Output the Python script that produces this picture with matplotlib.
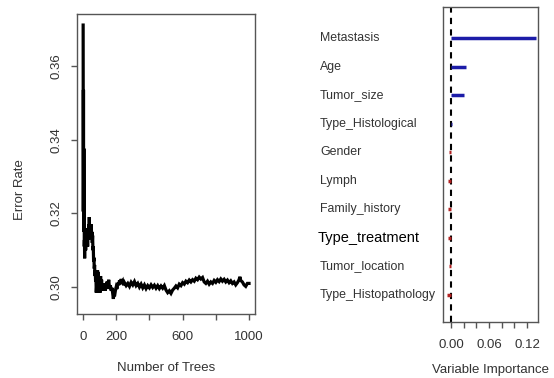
import matplotlib
matplotlib.use("Agg")
import matplotlib.pyplot as plt

plt.rcParams['font.family'] = ['Liberation Sans', 'DejaVu Sans']

# ---- Left panel data: OOB error rate vs number of trees ----
trees = [1, 2, 3, 4, 5, 6, 7, 8, 9, 10, 11, 12, 13, 14, 15, 16, 18, 20, 22, 24,
         26, 28, 30, 32, 34, 36, 38, 40, 42, 44, 46, 48, 50, 52, 54, 56, 58, 60,
         62, 64, 66, 68, 70, 72, 74, 76, 78, 80, 82, 84, 86, 88, 90, 92, 94, 96,
         98, 100, 103, 106, 109, 112, 115, 118, 121, 124, 127, 130, 133, 136,
         140, 145, 150, 155, 160, 165, 170, 175, 180, 183, 186, 190, 195, 200,
         205, 210, 215, 220, 225, 230, 235, 240, 245, 250, 260, 270, 280, 290,
         300, 310, 320, 330, 340, 350, 360, 370, 380, 390, 400, 410, 420, 430,
         440, 450, 460, 470, 480, 490, 500, 510, 520, 530, 540, 550, 560, 570,
         580, 590, 600, 610, 620, 630, 640, 650, 660, 670, 680, 690, 700, 710,
         720, 730, 740, 750, 760, 770, 780, 790, 800, 810, 820, 830, 840, 850,
         860, 870, 880, 890, 900, 910, 920, 930, 940, 945, 950, 960, 970, 980,
         990, 1000]
error_rate = [0.3711, 0.3205, 0.3535, 0.3210, 0.3376, 0.3150, 0.3290, 0.3110,
              0.3128, 0.3078, 0.3150, 0.3100, 0.3160, 0.3120, 0.3140, 0.3100,
              0.3130, 0.3110, 0.3150, 0.3120, 0.3140, 0.3110, 0.3150, 0.3130,
              0.3170, 0.3150, 0.3190, 0.3150, 0.3170, 0.3130, 0.3165, 0.3140,
              0.3170, 0.3135, 0.3150, 0.3120, 0.3140, 0.3100, 0.3110, 0.3070,
              0.3080, 0.3050, 0.3060, 0.3030, 0.3045, 0.3015, 0.3030, 0.2985,
              0.3000, 0.3030, 0.2995, 0.3045, 0.3010, 0.3040, 0.2985, 0.3010,
              0.2990, 0.3015, 0.2985, 0.3030, 0.2995, 0.3020, 0.2990, 0.3005,
              0.2990, 0.3010, 0.2995, 0.3005, 0.2990, 0.3000, 0.2995, 0.3015,
              0.3000, 0.3020, 0.2995, 0.3005, 0.2990, 0.2998, 0.2978, 0.2968,
              0.2980, 0.2975, 0.2990, 0.3000, 0.2995, 0.3012, 0.3005, 0.3018,
              0.3008, 0.3022, 0.3010, 0.3015, 0.3005, 0.3012, 0.3004, 0.3010,
              0.3002, 0.3013, 0.3006, 0.3015, 0.3004, 0.3010, 0.3000, 0.3008,
              0.2998, 0.3006, 0.2996, 0.3004, 0.2998, 0.3006, 0.2999, 0.3005,
              0.2997, 0.3004, 0.2996, 0.3003, 0.2997, 0.3004, 0.2992, 0.2985,
              0.2990, 0.2983, 0.2992, 0.2997, 0.3003, 0.2998, 0.3008, 0.3004,
              0.3012, 0.3008, 0.3016, 0.3012, 0.3019, 0.3014, 0.3020, 0.3016,
              0.3024, 0.3020, 0.3027, 0.3022, 0.3026, 0.3014, 0.3010, 0.3016,
              0.3008, 0.3014, 0.3010, 0.3018, 0.3013, 0.3020, 0.3015, 0.3022,
              0.3016, 0.3021, 0.3014, 0.3019, 0.3012, 0.3017, 0.3010, 0.3014,
              0.3006, 0.3012, 0.3020, 0.3028, 0.3018, 0.3014, 0.3006, 0.3002,
              0.3010, 0.3010]
x_ticks = [0, 200, 400, 600, 800, 1000]
x_tick_labels = ["0", "200", "", "600", "", "1000"]
y_ticks = [0.30, 0.32, 0.34, 0.36]
y_tick_labels = ["0.30", "0.32", "0.34", "0.36"]

# ---- Right panel data: variable importance ----
variables = ["Type_Histopathology", "Tumor_location", "Type_treatment",
             "Family_history", "Lymph", "Gender", "Type_Histological",
             "Tumor_size", "Age", "Metastasis"]
importance = [-0.006, -0.003, -0.004, -0.005, -0.004, -0.003, 0.0015,
              0.021, 0.0237, 0.134]
imp_ticks = [0.00, 0.02, 0.04, 0.06, 0.08, 0.10, 0.12]
imp_tick_labels = ["0.00", "", "", "0.06", "", "", "0.12"]

W, H = 554, 378
fig = plt.figure(figsize=(W / 100, H / 100), dpi=100)
fig.patch.set_facecolor("white")

edge = "#555555"
txt = "#333333"

def px_axes(l, r, t, b):
    return fig.add_axes([l / W, 1 - b / H, (r - l) / W, (b - t) / H])

# Left panel
ax1 = px_axes(77, 255, 14, 314)
ax1.plot(trees, error_rate, color="black", lw=2.3, solid_joinstyle="miter")
ax1.set_xlim(-36, 1036)
ax1.set_ylim(0.2927, 0.3741)
ax1.set_xticks(x_ticks)
ax1.set_xticklabels(x_tick_labels)
ax1.set_yticks(y_ticks)
ax1.set_yticklabels(y_tick_labels, rotation=90, va="center")
for s in ax1.spines.values():
    s.set_color(edge)
    s.set_linewidth(1.0)
ax1.tick_params(axis="both", colors=edge, labelcolor=txt, labelsize=9.5,
                length=4.5, width=1.0)
ax1.tick_params(axis="x", pad=8)
ax1.tick_params(axis="y", pad=6)
fig.text(20 / W, 1 - 190 / H, "Error Rate", rotation=90, ha="center",
         va="center", fontsize=9.5, color=txt)
fig.text(166 / W, 1 - 368 / H, "Number of Trees", ha="center", va="center",
         fontsize=9.5, color=txt)

# Right panel
ax2 = px_axes(443, 538, 7, 322)
ypos = list(range(1, len(variables) + 1))
ax2.axvline(0, color="black", lw=1.5, dashes=(3, 2.5), zorder=2)
for y, v in zip(ypos, importance):
    ax2.plot([0, v], [y, y], color="#1c1ca8" if v > 0 else "#b22222",
             lw=2.5, solid_capstyle="butt", zorder=3)
ax2.set_xlim(-0.0126, 0.1374)
ax2.set_ylim(0.054, 11.09)
ax2.set_yticks([])
ax2.set_xticks(imp_ticks)
ax2.set_xticklabels(imp_tick_labels)
for s in ax2.spines.values():
    s.set_color(edge)
    s.set_linewidth(1.0)
ax2.tick_params(axis="x", colors=edge, labelcolor=txt, labelsize=9.5,
                length=4.5, width=1.0, pad=8)
tr = ax2.get_yaxis_transform()
for y, name in zip(ypos, variables):
    if name == "Type_treatment":
        ax2.text((318 - 443) / 95, y, name, transform=tr, ha="left",
                 va="center", fontsize=10.5, color="black")
    else:
        ax2.text((320 - 443) / 95, y, name, transform=tr, ha="left",
                 va="center", fontsize=8.9, color=txt)
fig.text(490 / W, 1 - 370 / H, "Variable Importance", ha="center",
         va="center", fontsize=9.5, color=txt)

fig.savefig("out.png", dpi=100, facecolor="white")
